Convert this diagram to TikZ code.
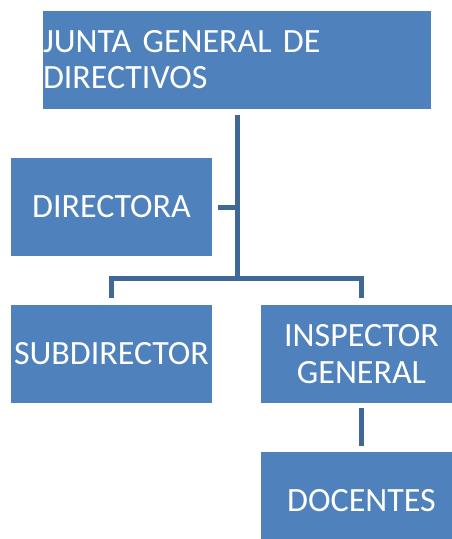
\documentclass[tikz,border=0pt]{standalone}
\usepackage{fontspec}
\setmainfont{Carlito}
\usepackage{tikz}
\usetikzlibrary{positioning, calc}

\definecolor{boxblue}{HTML}{4F81BD}
\definecolor{linkblue}{HTML}{3F6899}

\begin{document}
\begin{tikzpicture}[x=1pt, y=-1pt,
    box/.style={fill=boxblue, text=white, inner sep=0pt, minimum width=201pt, minimum height=98pt,
        align=center, font=\fontsize{34}{37}\selectfont},
    conn/.style={draw=linkblue, line width=5pt}]
    \useasboundingbox (0,0) rectangle (451,539);
    % Boxes
    \node[box, minimum width=388pt, text width=388pt, align=left, font=\fontsize{34}{36}\selectfont] (junta) at (237,60) {JUNTA GENERAL DE\\DIRECTIVOS};
    \node[box] (directora) at (111.5,207) {DIRECTORA};
    \node[box] (subdir) at (111.5,354) {SUBDIRECTOR};
    \node[box] (inspector) at (361.5,354) {INSPECTOR\\GENERAL};
    \node[box] (docentes) at (361.5,501) {DOCENTES};
    % Connectors
    \coordinate (bus) at (237,278);
    \draw[conn] ([yshift=-6pt]junta.south) -- (bus);
    \draw[conn] ([xshift=6pt]directora.east) -- (directora.east -| bus);
    \draw[conn] ([yshift=7pt]subdir.north) -- (subdir.north |- bus) -- (inspector.north |- bus) -- ([yshift=7pt]inspector.north);
    \draw[conn] ([yshift=-5pt]inspector.south) -- ([yshift=6pt]docentes.north);
\end{tikzpicture}
\end{document}
